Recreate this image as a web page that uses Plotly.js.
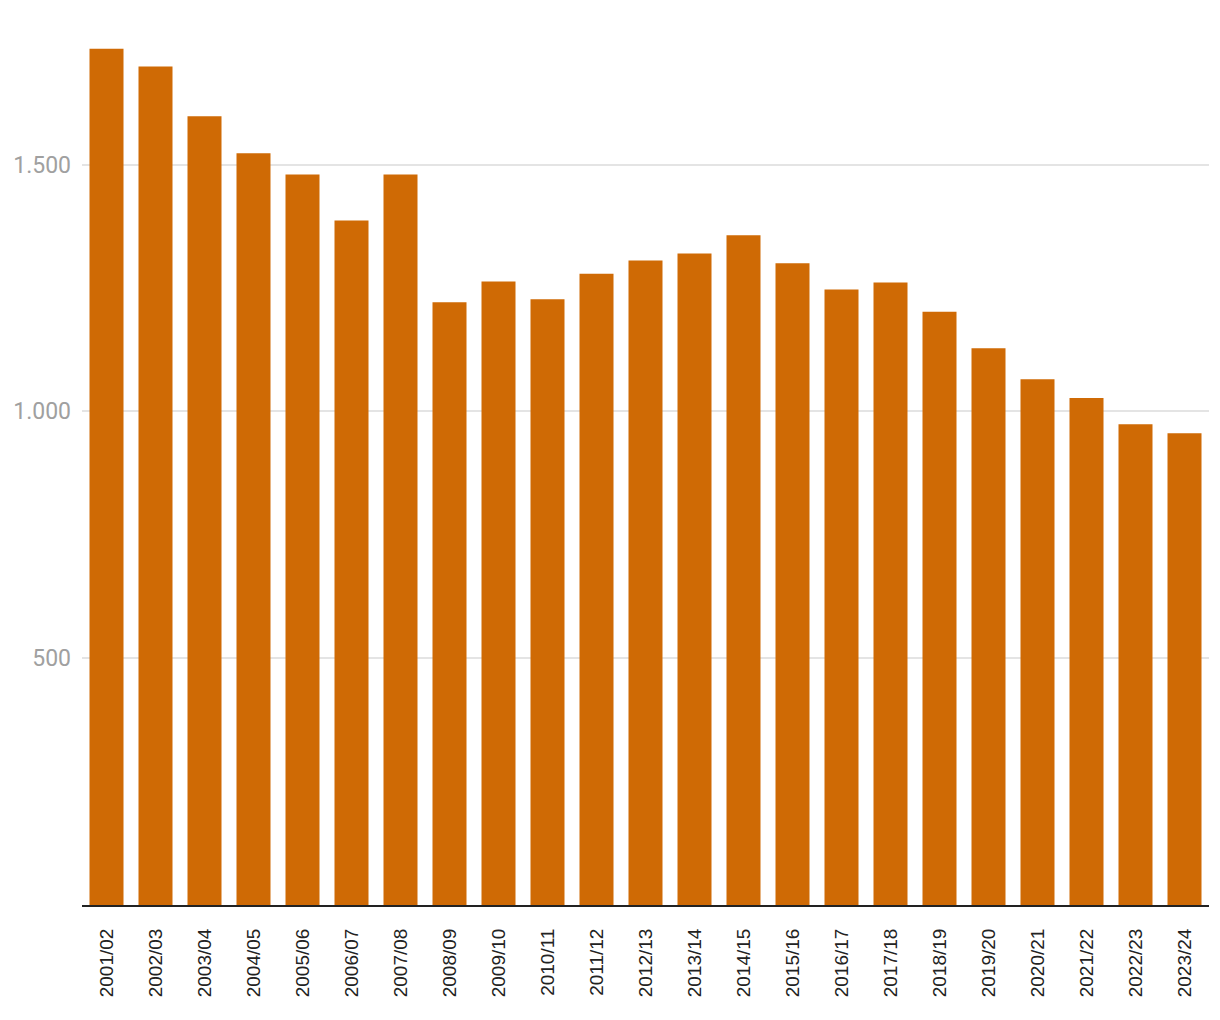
<!DOCTYPE html>
<html>
<head>
<meta charset="utf-8">
<script src="https://cdn.plot.ly/plotly-3.0.1.min.js"></script>
<style>html,body{margin:0;padding:0;background:#fff;}#chart{width:1220px;height:1020px;}</style>
</head>
<body>
<div id="chart"></div>
<script>
const categories = ["2001/02","2002/03","2003/04","2004/05","2005/06","2006/07","2007/08","2008/09","2009/10","2010/11","2011/12","2012/13","2013/14","2014/15","2015/16","2016/17","2017/18","2018/19","2019/20","2020/21","2021/22","2022/23","2023/24"];
const values = [1735,1699,1598,1523,1480,1387,1480,1221,1263,1227,1279,1306,1320,1357,1300,1247,1261,1202,1128,1065,1027,974,956];
const yTickVals = [500,1000,1500];

Plotly.newPlot('chart', [{
  type: 'bar',
  x: categories,
  y: values,
  marker: {color: '#cf6a05'},
  hoverinfo: 'x+y'
}], {
  width: 1220, height: 1020,
  margin: {l: 82, r: 11, t: 20, b: 115},
  paper_bgcolor: '#fff', plot_bgcolor: '#fff',
  separators: ',.',
  bargap: 0.306,
  showlegend: false,
  xaxis: {
    type: 'category',
    tickangle: -90,
    tickfont: {family: 'Liberation Sans, Arial, sans-serif', size: 19, color: '#222'},
    showline: true, linecolor: '#222', linewidth: 2,
    showgrid: false, ticks: '', ticklabelstandoff: 14
  },
  yaxis: {
    range: [0, 1793],
    tickvals: yTickVals,
    tickformat: ',d',
    tickfont: {family: 'Roboto, sans-serif', size: 23, color: '#a0a0a0'},
    showgrid: true, gridcolor: '#e4e4e4', gridwidth: 2,
    zeroline: false, showline: false, ticks: '', ticklabelstandoff: 10
  }
}, {displayModeBar: false, staticPlot: true});
</script>
</body>
</html>
